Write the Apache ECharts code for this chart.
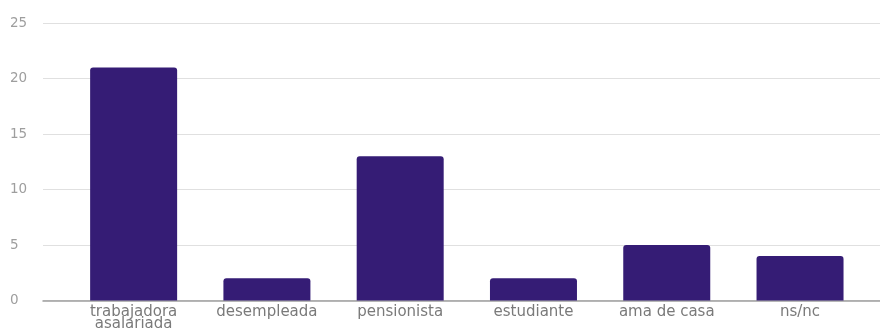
<!DOCTYPE html>
<html>
<head>
<meta charset="utf-8">
<script src="https://cdn.jsdelivr.net/npm/echarts@6/dist/echarts.min.js"></script>
<style>html,body{margin:0;padding:0;background:#fff}#c{width:880px;height:332px}</style>
</head>
<body>
<div id="c"></div>
<script>
const categories = ['trabajadora\nasalariada', 'desempleada', 'pensionista', 'estudiante', 'ama de casa', 'ns/nc'];
const values = [21, 2, 13, 2, 5, 4];
const yTicks = [0, 5, 10, 15, 20, 25];

const chart = echarts.init(document.getElementById('c'), null, {renderer: 'canvas'});
chart.setOption({
  animation: false,
  grid: {left: 43, right: 0, top: 23, bottom: 28, containLabel: false},
  xAxis: {
    type: 'value',
    min: -0.68,
    max: 5.6,
    splitLine: {show: false},
    axisTick: {show: false},
    axisLine: {show: true, onZero: false, lineStyle: {color: '#9e9e9e', width: 1.5}},
    axisLabel: {
      customValues: categories.map((c, i) => i),
      formatter: v => categories[Math.round(v)] || '',
      color: '#7a7a7a',
      fontFamily: 'DejaVu Sans',
      fontSize: 15,
      lineHeight: 12,
      margin: 6
    }
  },
  yAxis: {
    type: 'value',
    min: 0,
    max: 25,
    interval: 5,
    axisLine: {show: false},
    axisTick: {show: false},
    splitLine: {lineStyle: {color: '#e0e0e0', width: 1.2}},
    axisLabel: {
      color: '#9e9e9e',
      fontFamily: 'DejaVu Sans',
      fontSize: 13.5,
      align: 'left',
      margin: 33,
      customValues: yTicks
    }
  },
  series: [{
    type: 'bar',
    barWidth: 87,
    data: values.map((v, i) => [i, v]),
    itemStyle: {color: '#351c75', borderRadius: [3, 3, 0, 0]}
  }]
});
</script>
</body>
</html>
